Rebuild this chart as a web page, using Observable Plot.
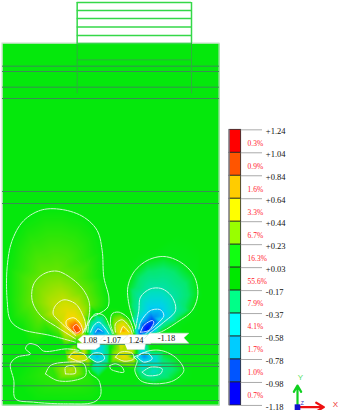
<!DOCTYPE html>
<html><head><meta charset="utf-8">
<style>html,body{margin:0;padding:0;background:#fff}svg{display:block}</style>
<script src="https://cdn.jsdelivr.net/npm/d3@7"></script>
<script src="https://cdn.jsdelivr.net/npm/@observablehq/plot@0.6"></script>
</head><body><div id="chart"></div>
<script>
// Model units: 1 unit = 1/3 display pixel; y=0 sits 200px below the top.
const levelLabels = ["+1.24","+1.04","+0.84","+0.64","+0.44","+0.23","+0.03","-0.17","-0.37","-0.58","-0.78","-0.98","-1.18"];
const percents = ["0.3%","0.9%","1.6%","3.3%","6.7%","16.3%","55.6%","7.9%","4.1%","1.7%","1.0%","0.7%"];
const bandColors = ["#ff0000","#ff5500","#ffcc00","#ffff00","#99ff00","#11ff11","#00e800","#00ff88","#00ffff","#00ccff","#0055ff","#0000ff"];
const colorStops = [-1.18,-0.8,-0.5,-0.3,-0.12,-0.03,0.03,0.22,0.45,0.7,1.0,1.24];
const colorRange = ["#0000ff","#0070f5","#00d0ee","#00e0c0","#05e870","#05e80c","#05e80c","#70e400","#cce000","#f8d800","#ff6000","#ff0000"];

const bodyLines = [-403,-387,-340,-306,-27,9,432,462,488,498,556,600];
const wireRows = [-594,-570,-546,-520.5,-495,-471];

const domeLeftA = [[225,425],[150,405],[60,385],[30,360],[20,300],[20,200],[35,120],[70,60],[125,28],[190,28],[250,50],[290,90],[305,150],[310,230],[325,290],[322,320],[295,340],[275,350],[262,370],[255,395]];
const domeLeftB = [[225,415],[170,380],[120,345],[95,300],[100,250],[130,220],[170,212],[215,235],[250,270],[267,310],[262,365],[250,395]];
const domeLeftC = [[225,405],[180,365],[158,340],[165,315],[190,298],[225,310],[245,340],[255,375],[245,400]];
const domeLeftD = [[225,400],[198,375],[198,360],[220,352],[240,370],[248,395]];
const domeLeftE = [[228,398],[218,380],[228,372],[240,390]];
const domeRightA = [[405,380],[385,310],[382,260],[400,215],[440,180],[490,168],[540,185],[580,225],[592,280],[575,330],[530,365],[480,395],[440,405]];
const domeRightB = [[405,385],[415,330],[420,290],[450,265],[485,265],[515,290],[525,330],[490,365],[445,400]];
const domeRightC = [[415,385],[420,365],[450,330],[480,328],[490,345],[465,375],[435,400]];
const domeRightD = [[420,395],[430,375],[455,360],[460,365],[445,390]];
const midNegA = [[262,395],[268,360],[285,340],[310,345],[328,380],[336,400]];
const midNegB = [[270,395],[280,375],[295,365],[315,385],[325,400]];
const midNegC = [[285,395],[292,385],[305,392]];
const midPosA = [[340,400],[330,370],[335,340],[355,335],[385,355],[400,395]];
const midPosB = [[345,395],[345,370],[365,358],[390,385],[395,400]];
const midPosC = [[360,395],[368,378],[385,395]];
const lowOuterL = [[235,450],[200,445],[130,452],[110,435],[85,430],[75,445],[90,460],[50,470],[30,490],[40,540],[45,595],[100,605],[200,610],[280,605],[300,585],[295,540],[270,520],[265,510]];
const lowBlobL = [[135,520],[150,495],[200,485],[250,490],[255,525],[220,540],[170,540]];
const lowBlobLi = [[195,520],[195,500],[220,497],[225,518]];
const lowOuterR = [[400,470],[450,450],[490,452],[530,475],[550,510],[520,540],[460,550],[420,540],[403,510],[410,480]];
const lowBlobRi = [[425,515],[450,500],[485,505],[480,520],[440,525]];
const lobe1 = [[205,470],[220,455],[250,460],[260,475],[235,482]];
const lobe2 = [[265,470],[280,458],[305,460],[312,475],[290,485]];
const lobe3 = [[345,470],[360,455],[395,458],[400,475],[370,482]];
const lobe4 = [[410,470],[425,458],[445,460],[455,475],[430,485]];
const midBlob = [[328,495],[345,490],[365,500],[370,515],[345,512],[330,505]];

const contours = [
  [domeLeftA,.03,0],[domeLeftB,.2,0],[domeLeftC,.42,0],[domeLeftD,.7,0],[domeLeftE,1.0,1],
  [domeRightA,-.04,0],[domeRightB,-.25,0],[domeRightC,-.55,0],[domeRightD,-.95,1],
  [midNegA,-.06,0],[midNegB,-.35,0],[midNegC,-.7,0],
  [midPosA,.05,0],[midPosB,.35,0],[midPosC,.7,0],
  [lowOuterL,.03,0],[lowBlobL,.1,1],[lowBlobLi,.3,1],
  [lowOuterR,-.04,1],[lowBlobRi,-.2,1],
  [lobe1,.45,1],[lobe2,-.35,1],[lobe3,.4,1],[lobe4,-.45,1],[midBlob,.03,1]
];
const peaks = [[230,398,1.08],[222,392,1.1],[232,465,.7],[292,392,-.9],[290,468,-.6],[368,392,.9],[370,467,.62],[440,385,-1.18],[432,392,-1.1],[432,467,-.7],[210,508,.4],[458,512,-.32],[200,330,.58],[460,350,-.7]];
const backdrop = [[6,-471],[657,-471],[6,615],[657,615],[330,-200],[6,-100],[657,-100],[6,300],[657,300],[330,100],[330,300],[6,500],[657,500],[330,610],[650,400],[600,440],[330,440],[190,440],[480,440]];

const fieldPoints = [
  ...contours.flatMap(([pts, v]) => pts.map(([x, y]) => ({x, y, v}))),
  ...peaks.map(([x, y, v]) => ({x, y, v})),
  ...backdrop.map(([x, y]) => ({x, y, v: 0}))
];
const contourPath = contours.map(([pts,,closed], id) => ({id, closed, pts: closed ? [...pts, pts[0]] : pts}));
const contourPts = contourPath.flatMap(c => c.pts.map(([x, y]) => ({x, y, id: c.id})));

const callouts = [
  {id:"under1", pts:[[230,428],[298,428],[298,438],[285,447],[240,447],[230,440]]},
  {id:"under3", pts:[[372,428],[435,428],[432,447],[380,447]]},
  {id:"c1", pts:[[232,418],[248,404],[315,404],[315,430],[248,430]]},
  {id:"c2", pts:[[300,418],[315,404],[385,404],[385,430],[315,430]]},
  {id:"c3", pts:[[368,418],[385,403],[450,403],[450,430],[385,430]]},
  {id:"c4", pts:[[432,414],[448,398],[565,398],[550,412],[565,428],[448,428]]}
].flatMap(c => c.pts.map(([x, y]) => ({x, y, id: c.id})));
const calloutLabels = [{t:"1.08",x:268,y:418},{t:"-1.07",x:335,y:418},{t:"1.24",x:407,y:418},{t:"-1.18",x:498,y:413}];

const barTop = -212, barStep = 68.9;
const tickY = i => barTop + i * barStep;
const bands = bandColors.map((c, i) => ({c, y1: tickY(i), y2: tickY(i + 1)}));
const ticks = levelLabels.map((t, i) => ({t, y: tickY(i)}));
const pcts = percents.map((t, i) => ({t, y: tickY(i) + barStep / 2 + 6}));

const serif = "'Liberation Serif', 'Times New Roman', serif";
const sans = "'Liberation Sans', sans-serif";
const chart = Plot.plot({
  width: 340, height: 410, margin: 0,
  x: {domain: [0, 1020], range: [0, 340], axis: null},
  y: {domain: [-600, 630], range: [0, 410], axis: null},
  color: {type: "linear", domain: colorStops, range: colorRange, clamp: true},
  style: {background: "#fff", fontFamily: serif},
  marks: [
    Plot.raster(fieldPoints, {x: "x", y: "y", fill: "v", x1: 6, x2: 657, y1: -471, y2: 615, interpolate: "barycentric", pixelSize: 1}),
    Plot.rect([0], {x1: 6, x2: 657, y1: -471, y2: 615, fill: "none", stroke: "#c8dcc8", strokeWidth: 1}),
    Plot.ruleY(bodyLines, {x1: 6, x2: 657, stroke: "#3a8c55", strokeWidth: 1}),
    Plot.ruleY([-422], {x1: 230, x2: 573, stroke: "#2fae3f", strokeWidth: 1}),
    Plot.ruleX([230, 573], {y1: -471, y2: -320, stroke: "#2fae3f", strokeWidth: 1}),
    Plot.ruleY(wireRows, {x1: 230, x2: 573, stroke: "#34d848", strokeWidth: 1.5}),
    Plot.ruleX([230, 573], {y1: -594, y2: -471, stroke: "#34d848", strokeWidth: 1.5}),
    Plot.line(contourPts, {x: "x", y: "y", z: "id", stroke: "#fff", strokeWidth: 1, strokeOpacity: .8, strokeDasharray: "5,1", curve: "catmull-rom"}),
    Plot.line(callouts, {x: "x", y: "y", z: "id", fill: "#fff", stroke: "#d8d8d8", strokeWidth: .5}),
    Plot.text(calloutLabels, {x: "x", y: "y", text: "t", fontSize: 8.5, fill: "#111", fontFamily: serif}),
    Plot.rect(bands, {x1: 687, x2: 722, y1: "y1", y2: "y2", fill: "c", stroke: "#222", strokeWidth: .8}),
    Plot.ruleX([686], {y1: barTop, y2: tickY(12), stroke: "#8a8a9a", strokeWidth: 1}),
    Plot.ruleY(ticks, {y: "y", x1: 722, x2: 786, stroke: "#aaa", strokeWidth: 1}),
    Plot.text(ticks, {x: 796, y: d => d.y + 4, text: "t", textAnchor: "start", fontSize: 8.5, fill: "#111", fontFamily: serif}),
    Plot.text(pcts, {x: 741, y: "y", text: "t", textAnchor: "start", fontSize: 7.5, fill: "#ff1a2a", fontFamily: serif}),
    Plot.arrow([0], {x1: 891, y1: 621, x2: 891, y2: 555, stroke: "#10d020", strokeWidth: 2.2, headLength: 6, bend: 0}),
    Plot.arrow([0], {x1: 891, y1: 620, x2: 970, y2: 620, stroke: "#ee1010", strokeWidth: 2.2, headLength: 6, bend: 0}),
    Plot.dot([0], {x: 891, y: 620, r: 3.2, symbol: "square", fill: "#1010d0"}),
    Plot.text(["Y"], {x: 900, y: 532, text: d => d, fontSize: 8, fill: "#55e060", fontFamily: sans}),
    Plot.text(["X"], {x: 1005, y: 612, text: d => d, fontSize: 8, fill: "#ee3030", fontFamily: sans}),
    Plot.text(["Z"], {x: 905, y: 608, text: d => d, fontSize: 5, fill: "#3030c0", fontFamily: sans})
  ]
});
document.getElementById("chart").append(chart);
</script>
</body></html>
